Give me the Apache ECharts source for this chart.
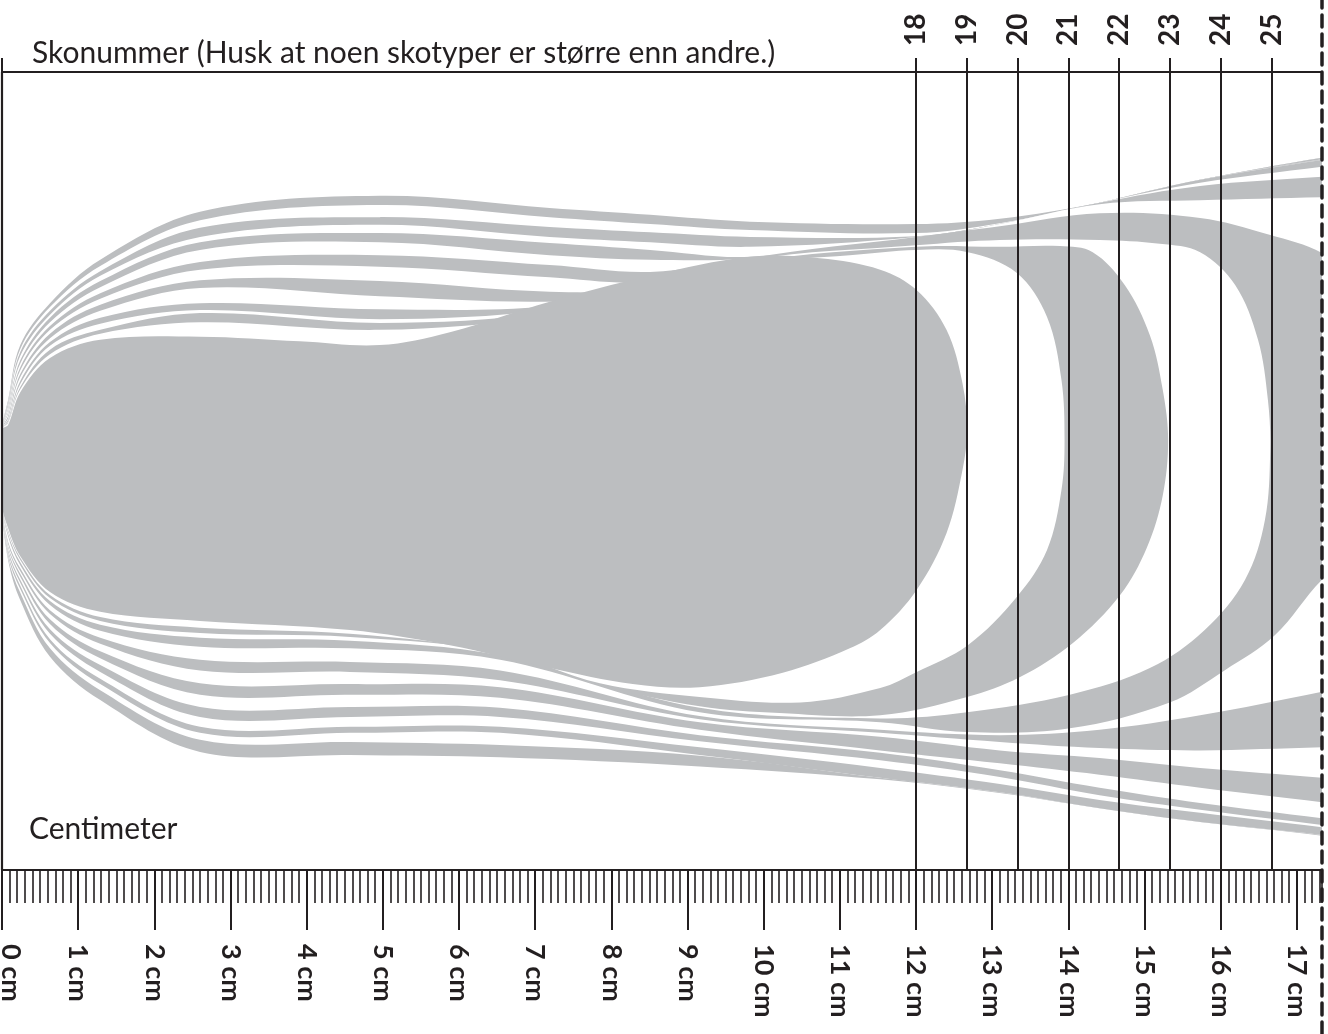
<!DOCTYPE html>
<html><head><meta charset="utf-8">
<script src="https://cdn.jsdelivr.net/npm/echarts@6/dist/echarts.min.js"></script>
<style>html,body{margin:0;padding:0;background:#fff}#c{width:1328px;height:1034px}</style>
</head><body><div id="c"></div>
<script>
// ---- ruler / axes data ----
const cmTicks = [0,1,2,3,4,5,6,7,8,9,10,11,12,13,14,15,16,17];
const rulerMaxCm = 17.33;          // right edge of the printable ruler (cm)
const shoeSizes = [18,19,20,21,22,23,24,25];
const sizeAxisMax = 25.995;        // shoe size (Paris points) at the right edge
const titleText = 'Skonummer (Husk at noen skotyper er større enn andre.)';
const unitText = 'Centimeter';

// ---- foot outlines (cm from heel, cm above ruler) ----
const heelTop = [0, 5.78];
const heelBottom = [0, 4.79];
const farRight = [19.40, 5.12];
const topX = [0.08,0.24,0.63,1.29,2.60,4.96,7.19,8.51,9.82,12.00,13.10,14.41,15.73,17.33,18.61];
const bottomX = [0.08,0.24,0.63,1.29,2.60,4.57,6.54,9.16,11.53,13.10,14.41,15.73,17.33,18.61];

const top1  = [6.17,6.89,7.44,8.01,8.64,8.85,8.69,8.60,8.51,8.48,8.55,8.76,9.06,9.35,9.52];
const top2  = [6.14,6.84,7.39,7.93,8.53,8.73,8.57,8.48,8.40,8.36,8.49,8.76,9.06,9.35,9.52];
const top3  = [6.12,6.80,7.34,7.86,8.43,8.57,8.44,8.37,8.31,8.32,8.48,8.76,9.06,9.35,9.52];
const top4  = [6.09,6.75,7.29,7.80,8.31,8.47,8.31,8.24,8.18,8.31,8.48,8.76,9.06,9.33,9.50];
const top5  = [6.06,6.69,7.25,7.73,8.24,8.36,8.23,8.14,8.05,8.30,8.48,8.76,9.06,9.33,9.50];
const top6  = [6.04,6.65,7.19,7.65,8.14,8.24,8.07,8.01,8.03,8.30,8.48,8.76,9.06,9.32,9.49];
const top7  = [6.01,6.60,7.14,7.57,7.98,8.07,7.94,7.85,8.02,8.30,8.48,8.76,9.06,9.32,9.49];
const top8  = [5.99,6.56,7.09,7.50,7.88,7.92,7.78,7.72,8.02,8.28,8.48,8.76,9.02,9.23,9.39];
const top9  = [5.96,6.51,7.04,7.42,7.74,7.73,7.59,7.64,8.01,8.28,8.48,8.76,8.98,9.10,9.19];
const top10 = [5.93,6.47,6.98,7.34,7.64,7.53,7.46,7.59,8.01,8.28,8.48,8.74,8.79,8.83,8.86];

const bot1  = [4.07,3.54,2.80,2.23,1.55,1.51,1.48,1.36,1.19,1.01,0.81,0.63,0.45,0.26];
const bot2  = [4.10,3.64,2.91,2.36,1.71,1.68,1.64,1.50,1.21,1.02,0.81,0.63,0.46,0.28];
const bot3  = [4.12,3.69,2.98,2.44,1.80,1.80,1.80,1.51,1.21,1.02,0.81,0.63,0.46,0.28];
const bot4  = [4.15,3.73,3.03,2.51,1.88,1.88,1.88,1.61,1.34,1.13,0.92,0.75,0.56,0.39];
const bot5  = [4.17,3.77,3.10,2.60,2.01,2.01,2.01,1.69,1.44,1.22,0.98,0.79,0.59,0.42];
const bot6  = [4.20,3.81,3.16,2.69,2.14,2.14,2.13,1.77,1.54,1.31,1.08,0.88,0.68,0.52];
const bot7  = [4.23,3.85,3.23,2.78,2.30,2.30,2.26,1.84,1.57,1.40,1.25,1.08,0.89,0.72];
const bot8  = [4.25,3.89,3.29,2.87,2.45,2.44,2.40,1.94,1.75,1.57,1.47,1.34,1.21,1.08];
const bot9  = [4.28,3.92,3.36,2.97,2.62,2.60,2.49,1.98,1.80,1.68,1.60,1.57,1.61,1.64];
const bot10 = [4.31,3.96,3.41,3.05,2.76,2.73,2.62,2.02,1.84,1.77,1.84,2.03,2.34,2.62];

// outlines 11-15: points from heel along the top, round the toe, back along the bottom
const foot11 = [[0.08,5.91],[0.24,6.42],[0.63,6.93],[1.29,7.25],[2.60,7.44],[4.96,7.36],[7.19,7.40],[8.51,7.68],[9.82,8.03],[12.00,8.31],[13.10,8.45],[14.41,8.62],[15.73,8.56],[16.64,8.34],[17.33,8.10],[18.22,7.48],[18.75,5.91],[18.22,4.59],[17.33,3.81],[16.71,3.08],[16.05,2.62],[15.33,2.20],[14.02,1.86],[12.67,1.81],[11.53,1.94],[9.16,2.07],[6.54,2.76],[4.57,2.91],[2.60,2.93],[1.29,3.14],[0.63,3.48],[0.24,4.00],[0.08,4.38]];
const foot12 = [[0.08,5.89],[0.24,6.38],[0.63,6.88],[1.29,7.17],[2.60,7.35],[4.96,7.23],[7.19,7.35],[8.51,7.64],[9.82,8.01],[12.00,8.20],[13.10,8.27],[14.41,8.27],[15.20,8.22],[15.73,8.11],[16.19,7.68],[16.49,6.96],[16.62,6.17],[16.65,5.51],[16.58,4.59],[16.32,3.81],[15.79,3.15],[15.07,2.65],[14.02,2.30],[12.67,2.07],[11.53,1.99],[9.16,2.13],[6.54,2.82],[4.57,3.01],[2.60,3.05],[1.29,3.22],[0.63,3.53],[0.24,4.04],[0.08,4.41]];
const foot13 = [[0.08,5.88],[0.24,6.34],[0.63,6.83],[1.29,7.09],[2.60,7.31],[4.96,7.18],[7.19,7.31],[8.51,7.61],[9.82,7.98],[12.00,8.18],[13.10,8.18],[13.89,8.19],[14.32,8.11],[14.74,7.68],[15.07,7.02],[15.24,6.30],[15.31,5.64],[15.24,4.92],[15.03,4.23],[14.68,3.61],[14.06,2.98],[13.36,2.53],[12.67,2.27],[11.53,2.03],[10.21,2.06],[9.16,2.15],[7.85,2.43],[6.54,2.86],[4.57,3.06],[2.60,3.11],[1.29,3.27],[0.63,3.57],[0.24,4.07],[0.08,4.44]];
const foot14 = [[0.08,5.87],[0.24,6.31],[0.63,6.77],[1.29,7.04],[2.60,7.19],[4.96,7.09],[7.19,7.27],[8.51,7.59],[9.82,7.95],[11.13,8.07],[12.00,8.14],[12.68,8.11],[13.32,7.84],[13.72,7.26],[13.91,6.43],[13.95,5.64],[13.91,4.99],[13.72,4.20],[13.32,3.58],[12.68,2.95],[12.01,2.60],[11.53,2.39],[10.48,2.20],[9.16,2.27],[7.85,2.45],[6.54,2.86],[4.57,3.10],[2.60,3.18],[1.29,3.32],[0.63,3.61],[0.24,4.10],[0.08,4.46]];
const foot15 = [[0.08,5.84],[0.24,6.27],[0.63,6.72],[1.29,6.96],[2.60,7.00],[3.91,6.94],[4.96,6.89],[5.88,7.06],[7.19,7.46],[8.51,7.80],[9.82,8.05],[10.74,8.03],[11.53,7.88],[12.01,7.61],[12.40,7.09],[12.61,6.39],[12.67,5.78],[12.61,5.25],[12.40,4.42],[12.01,3.68],[11.53,3.15],[11.13,2.91],[10.25,2.59],[9.16,2.40],[8.28,2.44],[7.19,2.65],[5.88,2.95],[4.57,3.15],[2.60,3.27],[1.29,3.39],[0.63,3.65],[0.24,4.12],[0.08,4.49]];

const GRAY = '#bcbec0';
const INK = '#231f20';
const FONT = 'Lato';

function bandOutline(top, bottom) {
  const pts = [heelBottom, heelTop];
  topX.forEach((x, i) => pts.push([x, top[i]]));
  pts.push(farRight);
  for (let i = bottomX.length - 1; i >= 0; i--) pts.push([bottomX[i], bottom[i]]);
  return pts;
}
const footOutline = pts => [heelBottom, heelTop].concat(pts);
const outlines = [
  bandOutline(top1, bot1), bandOutline(top2, bot2), bandOutline(top3, bot3),
  bandOutline(top4, bot4), bandOutline(top5, bot5), bandOutline(top6, bot6),
  bandOutline(top7, bot7), bandOutline(top8, bot8), bandOutline(top9, bot9),
  bandOutline(top10, bot10),
  footOutline(foot11), footOutline(foot12), footOutline(foot13), footOutline(foot14), footOutline(foot15)
];

const chart = echarts.init(document.getElementById('c'), null, {renderer: 'canvas'});
chart.setOption({
  animation: false,
  backgroundColor: '#fff',
  title: [
    {text: titleText, left: 27, top: 33, textStyle: {fontFamily: FONT, fontSize: 30, fontWeight: 'normal', color: INK}},
    {text: unitText, left: 24, top: 809, textStyle: {fontFamily: FONT, fontSize: 30, fontWeight: 'normal', color: INK}}
  ],
  grid: [
    {left: 2, right: 6, top: 72, bottom: 164, containLabel: false, outerBoundsMode: 'none'},
    {left: 2, right: 6, top: 0, bottom: 0, containLabel: false, outerBoundsMode: 'none'}
  ],
  xAxis: [
    { // cm ruler, major ticks + labels
      type: 'value', gridIndex: 0, position: 'bottom', min: 0, max: rulerMaxCm, interval: 1, z: 10,
      axisLine: {show: true, onZero: false, lineStyle: {color: INK, width: 2.2}},
      axisTick: {show: true, customValues: cmTicks, length: 60, lineStyle: {color: INK, width: 2}},
      axisLabel: {show: true, customValues: cmTicks, rotate: -90, margin: 74, hideOverlap: false,
        fontFamily: FONT, fontSize: 27, fontWeight: 'bold', color: INK,
        formatter: v => v === 0 ? '{first|0 cm}' : v + ' cm',
        rich: {first: {fontFamily: FONT, fontSize: 27, fontWeight: 'bold', color: INK, padding: [0, 0, 18, 0]}}},
      splitLine: {show: false}
    },
    { // mm ticks
      type: 'value', gridIndex: 0, position: 'bottom', min: 0, max: rulerMaxCm, interval: 0.1, z: 10,
      axisLine: {show: false, onZero: false},
      axisTick: {show: true, length: 33, lineStyle: {color: INK, width: 1.6}},
      axisLabel: {show: false}, splitLine: {show: false}
    },
    { // shoe sizes on top
      type: 'value', gridIndex: 0, position: 'top', min: 0, max: sizeAxisMax, z: 10,
      axisLine: {show: true, onZero: false, lineStyle: {color: INK, width: 2.2}},
      axisTick: {show: true, customValues: [0].concat(shoeSizes), length: 14, lineStyle: {color: INK, width: 2}},
      axisLabel: {show: true, customValues: shoeSizes, rotate: -90, margin: 26,
        fontFamily: FONT, fontSize: 28, fontWeight: 'bold', color: INK},
      splitLine: {show: false}
    },
    {type: 'value', gridIndex: 1, show: false, min: 0, max: 1}
  ],
  yAxis: [
    {type: 'value', gridIndex: 0, min: 0, max: 10.475, z: 10,
      axisLine: {show: true, onZero: false, lineStyle: {color: INK, width: 2.2}},
      axisTick: {show: false}, axisLabel: {show: false}, splitLine: {show: false}},
    {type: 'value', gridIndex: 1, position: 'right', min: 0, max: 1, z: 10,
      axisLine: {show: true, onZero: false, lineStyle: {color: INK, width: 3.5, type: [12, 7]}},
      axisTick: {show: false}, axisLabel: {show: false}, splitLine: {show: false}}
  ],
  series: [
    {
      type: 'custom', xAxisIndex: 0, yAxisIndex: 0, clip: true, silent: true,
      data: outlines.map((o, i) => [i]),
      renderItem(params, api) {
        const pts = outlines[params.dataIndex].map(p => api.coord(p));
        return {type: 'polygon', shape: {points: pts, smooth: 0.35},
          style: {fill: params.dataIndex % 2 === 0 ? GRAY : '#ffffff', stroke: null}};
      }
    },
    {
      type: 'line', xAxisIndex: 2, yAxisIndex: 0, data: [], z: 10, silent: true,
      markLine: {symbol: 'none', silent: true, animation: false, label: {show: false},
        lineStyle: {color: INK, width: 2, type: 'solid'},
        data: shoeSizes.map(s => ({xAxis: s}))}
    }
  ]
});
</script></body></html>
